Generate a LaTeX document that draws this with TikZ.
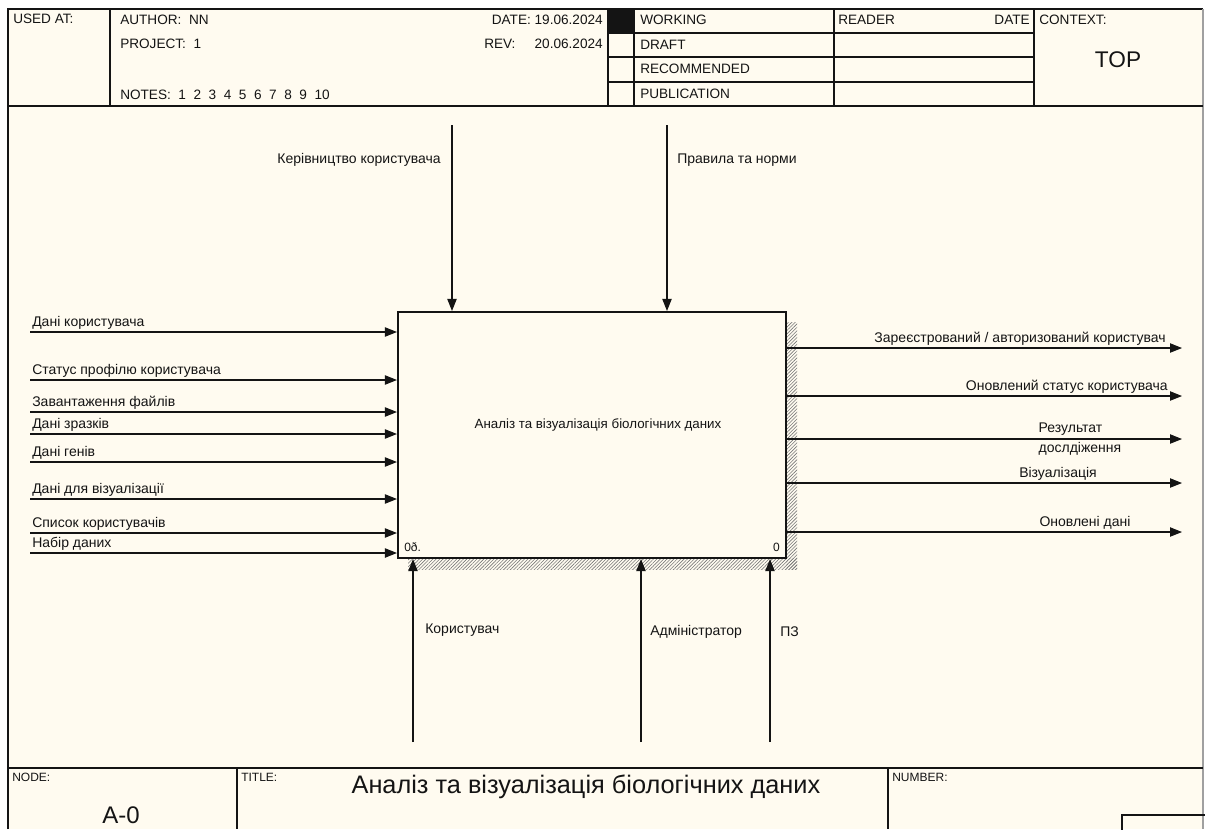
\documentclass[tikz,border=0pt]{standalone}
\usepackage{fontspec}
\setmainfont{Liberation Sans}
\usetikzlibrary{arrows.meta,patterns.meta}
\definecolor{paper}{RGB}{255,251,240}
\definecolor{ink}{RGB}{20,20,20}
\definecolor{hatchgray}{RGB}{120,120,120}
\definecolor{edgegray}{RGB}{160,160,160}

\tikzset{
  lbl/.style={font=\fontsize{10.5}{12}\selectfont, inner sep=1.5pt, text=ink},
  hdr/.style={font=\fontsize{10.2}{12}\selectfont, inner sep=0pt, text=ink},
  tiny/.style={font=\fontsize{9}{10}\selectfont, inner sep=0pt, text=ink},
  flow/.style={draw=ink, line width=0.8pt, -{Triangle[length=9pt,width=7pt]}},
  rule/.style={draw=ink, line width=0.8pt},
  hatch/.style={pattern={Lines[angle=45,distance=1.8pt,line width=0.45pt]},
    pattern color=hatchgray},
  fnbox/.style={draw=ink, line width=1.6pt, fill=paper, minimum width=291pt,
    minimum height=184.5pt, inner sep=0pt}
}

\begin{document}
\begin{tikzpicture}[x=0.75pt, y=-0.75pt]

% ── Page ─────────────────────────────────────────────────────────────
\useasboundingbox (0,0) rectangle (1205,829);
\fill[white] (0,0) rectangle (1205,829);
\fill[paper] (8,9) rectangle (1203,829);
\draw[rule] (8,829) -- (8,9) -- (1203,9);
\draw[edgegray, line width=0.8pt] (1203,9) -- (1203,829);

% ── Header ───────────────────────────────────────────────────────────
\draw[rule] (8,106) -- (1203,106);
\foreach \x in {110,608,634,834,1034}
  \draw[rule] (\x,9) -- (\x,106);
\foreach \y in {33,57,82}
  \draw[rule] (608,\y) -- (1034,\y);
\fill[ink] (608,9) rectangle (634,33);

\node[hdr, anchor=north west] (usedat) at (13,14) {USED AT:};
\node[hdr, anchor=west] (author) at (120,20) {AUTHOR:\ \ NN};
\node[hdr, anchor=west] (project) at (120,44) {PROJECT:\ \ 1};
\node[hdr, anchor=west] (notes) at (120,95) {NOTES:\ \ 1\ \ 2\ \ 3\ \ 4\ \ 5\ \ 6\ \ 7\ \ 8\ \ 9\ \ 10};
\node[hdr, anchor=east] (date) at (603,20) {DATE: 19.06.2024};
\node[hdr, anchor=west] (revkey) at (484,44) {REV:};
\node[hdr, anchor=east] (rev) at (603,44) {20.06.2024};

\node[hdr, anchor=west] (working) at (640,20) {WORKING};
\node[hdr, anchor=west] (draft) at (640,45) {DRAFT};
\node[hdr, anchor=west] (recommended) at (640,69) {RECOMMENDED};
\node[hdr, anchor=west] (publication) at (640,94) {PUBLICATION};
\node[hdr, anchor=west] (reader) at (838,20) {READER};
\node[hdr, anchor=east] (rdate) at (1030,20) {DATE};
\node[hdr, anchor=west] (context) at (1039,20) {CONTEXT:};
\node[font=\fontsize{17}{20}\selectfont, inner sep=0pt, text=ink] (top) at (1118,60) {TOP};

% ── Function box with hatched shadow ────────────────────────────────
\fill[hatch] (786,322) rectangle (797,569);
\fill[hatch] (408,558) rectangle (797,569);
\node[fnbox] (fn) at (592,435) {};
\node[font=\fontsize{10}{12}\selectfont, text=ink] (fntext) at (598,425)
  {Аналіз та візуалізація біологічних даних};
\node[tiny, anchor=south west] (fnnode) at (404,552) {0ð.};
\node[tiny, anchor=south east] (fnnum) at (780,552) {0};

% ── Controls (top) ──────────────────────────────────────────────────
\coordinate (c1) at (452,125);
\coordinate (c2) at (667,125);
\draw[flow] (c1) -- (c1 |- fn.north);
\draw[flow] (c2) -- (c2 |- fn.north);
\node[lbl, anchor=east] (lc1) at (443,160) {Керівництво користувача};
\node[lbl, anchor=west] (lc2) at (675,160) {Правила та норми};

% ── Inputs (left) ───────────────────────────────────────────────────
\foreach \y/\t [count=\i] in {332/Дані користувача,
    380/Статус профілю користувача,
    412/Завантаження файлів,
    434/Дані зразків,
    462/Дані генів,
    499/Дані для візуалізації,
    533/Список користувачів,
    553/Набір даних} {
  \coordinate (in\i) at (30,\y);
  \draw[flow] (in\i) -- (in\i -| fn.west);
  \node[lbl, anchor=south west] (lin\i) at (in\i) {\t};
}

% ── Outputs (right) ─────────────────────────────────────────────────
\foreach \y [count=\i] in {348,396,439,483,532} {
  \coordinate (out\i) at (1182,\y);
  \draw[flow] (out\i -| fn.east) -- (out\i);
}
\node[lbl, anchor=south east] (lout1) at (1168,348) {Зареєстрований / авторизований користувач};
\node[lbl, anchor=south east] (lout2) at (1170,396) {Оновлений статус користувача};
\node[lbl, align=left] (lout3) at (1080,439) {Результат\\[3pt]дослдіження};
\node[lbl, anchor=south] (lout4) at (1058,483) {Візуалізація};
\node[lbl, anchor=south] (lout5) at (1085,532) {Оновлені дані};

% ── Mechanisms (bottom) ─────────────────────────────────────────────
\coordinate (m1) at (413,742);
\coordinate (m2) at (641,742);
\coordinate (m3) at (770,742);
\foreach \m in {m1,m2,m3}
  \draw[flow] (\m) -- (\m |- fn.south);
\node[lbl, anchor=west] (lm1) at (423,630) {Користувач};
\node[lbl, anchor=west] (lm2) at (648,632) {Адміністратор};
\node[lbl, anchor=west] (lm3) at (778,632) {ПЗ};

% ── Footer ──────────────────────────────────────────────────────────
\draw[rule] (8,768) -- (1203,768);
\draw[rule] (237,768) -- (237,829);
\draw[rule] (888,768) -- (888,829);
\draw[rule] (1210,815) -- (1122,815) -- (1122,835);
\node[tiny, anchor=north west] (nodekey) at (12,773) {NODE:};
\node[font=\fontsize{18}{20}\selectfont, inner sep=0pt, text=ink] (nodeid) at (121,815) {A-0};
\node[tiny, anchor=north west] (titlekey) at (241,773) {TITLE:};
\node[font=\fontsize{19}{22}\selectfont, inner sep=0pt, text=ink] (title) at (586,787)
  {Аналіз та візуалізація біологічних даних};
\node[tiny, anchor=north west] (numkey) at (892,773) {NUMBER:};

\end{tikzpicture}
\end{document}
